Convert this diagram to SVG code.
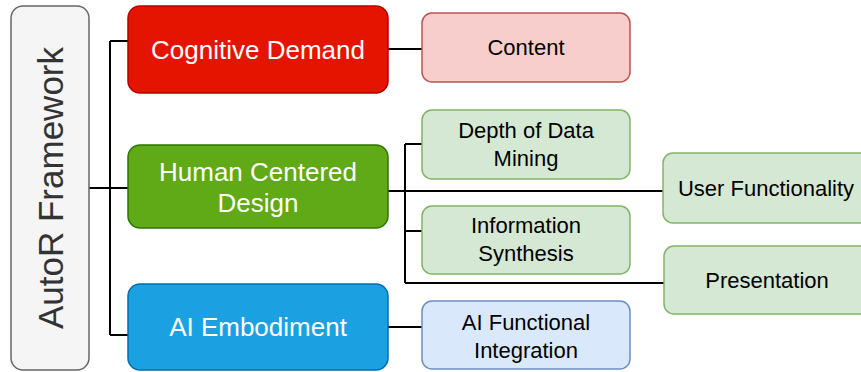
<svg xmlns="http://www.w3.org/2000/svg" width="861" height="372" viewBox="0 0 861 372">
<style>
.box{stroke-width:1.5}
.t{font-family:"Liberation Sans",Arial,sans-serif;text-anchor:middle}
.big{font-size:26px;fill:#ffffff}
.sm{font-size:22px;fill:#000000}
.red{fill:#e51400;stroke:#b20000}
.grn{fill:#60a917;stroke:#2d7600}
.blu{fill:#1ba1e2;stroke:#006eaf}
.lred{fill:#f8cecc;stroke:#b85450}
.lgrn{fill:#d5e8d4;stroke:#82b366}
.lblu{fill:#dae8fc;stroke:#6c8ebf}
.c{fill:none;stroke:#000000;stroke-width:2}
</style>
<rect width="861" height="372" fill="#ffffff"/>
<g id="connectors">
<path class="c" d="M89 188 H110 M110 41 V335 M110 41 H128 M110 188 H128 M110 335 H128"/>
<path class="c" d="M388 49 H422"/>
<path class="c" d="M388 191 H663 M405 144 V283 M405 144 H422 M405 231 H422 M405 283 H664"/>
<path class="c" d="M388 327 H422"/>
</g>
<g id="autor">
<rect class="box" x="11" y="6" width="78" height="364" rx="12" fill="#f5f5f5" stroke="#666666"/>
<text class="t" transform="translate(63,188) rotate(-90)" font-size="35" fill="#333333">AutoR Framework</text>
</g>
<g id="cognitive">
<rect class="box red" x="128" y="6" width="260" height="87" rx="12"/>
<text class="t big" x="258" y="59">Cognitive Demand</text>
</g>
<g id="human">
<rect class="box grn" x="128" y="145" width="260" height="83" rx="12"/>
<text class="t big" x="258" y="181">Human Centered</text>
<text class="t big" x="258" y="212">Design</text>
</g>
<g id="ai">
<rect class="box blu" x="128" y="284" width="260" height="86" rx="12"/>
<text class="t big" x="258" y="336">AI Embodiment</text>
</g>
<g id="content">
<rect class="box lred" x="422" y="13" width="208" height="69" rx="10"/>
<text class="t sm" x="526" y="55">Content</text>
</g>
<g id="depth">
<rect class="box lgrn" x="422" y="110" width="208" height="69" rx="10"/>
<text class="t sm" x="526" y="138">Depth of Data</text>
<text class="t sm" x="526" y="166">Mining</text>
</g>
<g id="synthesis">
<rect class="box lgrn" x="422" y="206" width="208" height="68" rx="10"/>
<text class="t sm" x="526" y="233">Information</text>
<text class="t sm" x="526" y="261">Synthesis</text>
</g>
<g id="userfunc">
<rect class="box lgrn" x="663" y="153" width="208" height="70" rx="10"/>
<text class="t sm" x="766" y="196">User Functionality</text>
</g>
<g id="presentation">
<rect class="box lgrn" x="664" y="246" width="208" height="68" rx="10"/>
<text class="t sm" x="767" y="288">Presentation</text>
</g>
<g id="aifunc">
<rect class="box lblu" x="422" y="301" width="208" height="68" rx="10"/>
<text class="t sm" x="526" y="330">AI Functional</text>
<text class="t sm" x="526" y="358">Integration</text>
</g>
</svg>
